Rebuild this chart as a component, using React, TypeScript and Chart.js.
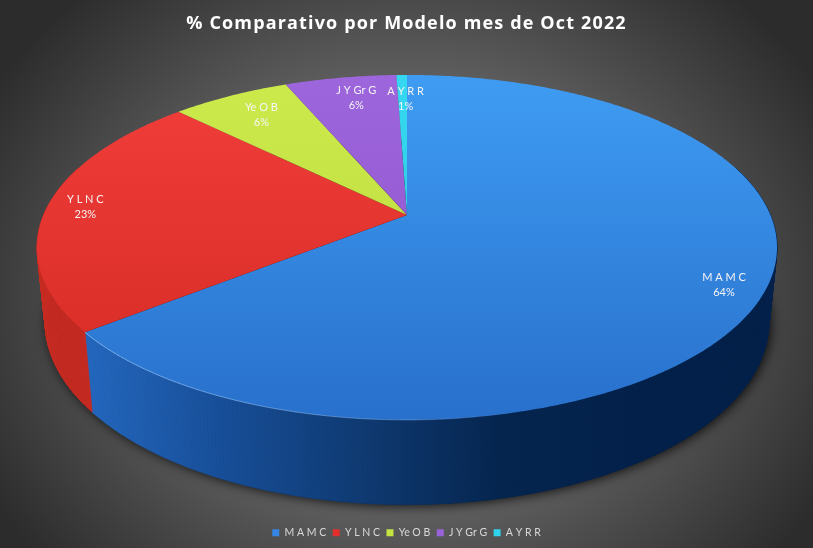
import React, { useEffect, useRef } from "react";
import { Chart, registerables } from "chart.js";

Chart.register(...registerables);

const TITLE = "% Comparativo por Modelo mes de Oct 2022";
const categories = ["M A M C", "Y L N C", "Ye O B", "J Y Gr G", "A Y R R"];
const values = [64.3, 23.1, 6.2, 5.85, 0.55];

const baseColors = ["#3585e4", "#e2302c", "#c4e444", "#9a62d8", "#2fd3ec"];
const topColors = ["#3f9cf2", "#f23e3a", "#cdea4c", "#9d66dc", "#35d8f0"];
const bottomColors = ["#2870cc", "#d42a24", "#b8d838", "#8e50c8", "#28c8e0"];
const wallStops = [
  ["#2468c0", "#174e98", "#0f3a72", "#05254f", "#02204a"],
  ["#c62a21", "#c62a21", "#c62a21", "#c62a21", "#c62a21"],
  ["#8ea82c", "#8ea82c", "#8ea82c", "#8ea82c", "#8ea82c"],
  ["#6c3ea0", "#6c3ea0", "#6c3ea0", "#6c3ea0", "#6c3ea0"],
  ["#1c9fb4", "#1c9fb4", "#1c9fb4", "#1c9fb4", "#1c9fb4"],
];
const labelRadius = [0.9, 0.9, 0.82, 0.83, 0.8];
const labelNudgeX = [-1, 2, 3, 6, 3];

// Geometry of the tilted pie: apex, radii and perspective strength
const CX = 407;
const CY = 215;
const RX = 363.4;
const RY = 166.4;
const K = 0.188;
const RIM_SX = 0.978;
const RIM_SY = 1.057;
const RIM_D = 73;

function face(a: number, f: number) {
  const u = f * Math.cos(a);
  const v = f * Math.sin(a);
  const den = 1 - K * v;
  return { x: CX + (RX * u) / den, y: CY + (RY * v) / den };
}
function rim(a: number) {
  const p = face(a, 1);
  return { x: CX + RIM_SX * (p.x - CX), y: CY + RIM_D + RIM_SY * (p.y - CY) };
}

const piePlugin = {
  id: "tiltedPie",
  beforeDraw(chart: any) {
    const { ctx, width, height } = chart;
    ctx.save();
    ctx.fillStyle = "#2a2a2a";
    ctx.fillRect(0, 0, width, height);
    ctx.translate(width / 2, height / 2 + 20);
    ctx.scale(1, 0.85);
    const g = ctx.createRadialGradient(0, 0, 0, 0, 0, 480);
    g.addColorStop(0, "#6e6e6e");
    g.addColorStop(0.55, "#5c5c5c");
    g.addColorStop(0.85, "#3c3c3c");
    g.addColorStop(1, "#2c2c2c");
    ctx.fillStyle = g;
    ctx.fillRect(-width, -height * 1.5, width * 2, height * 3);
    ctx.restore();
  },
  beforeDatasetsDraw(chart: any) {
    const { ctx } = chart;
    const arcs = chart.getDatasetMeta(0).data;
    ctx.save();

    // Drop shadow of the pie's lower rim
    ctx.save();
    ctx.shadowColor = "rgba(0,0,0,0.85)";
    ctx.shadowBlur = 12;
    ctx.shadowOffsetX = 2;
    ctx.shadowOffsetY = 1;
    ctx.fillStyle = "#111";
    ctx.beginPath();
    for (let i = 0; i <= 240; i++) {
      const p = rim((i / 240) * Math.PI * 2);
      if (i === 0) ctx.moveTo(p.x, p.y);
      else ctx.lineTo(p.x, p.y);
    }
    ctx.closePath();
    ctx.fill();
    ctx.restore();

    // Side wall
    arcs.forEach((arc: any, i: number) => {
      const g = ctx.createLinearGradient(85, 0, 640, 0);
      wallStops[i].forEach((c: string, s: number) => g.addColorStop(s / 4, c));
      ctx.fillStyle = g;
      ctx.strokeStyle = g;
      ctx.lineWidth = 0.7;
      const n = Math.max(4, Math.ceil((arc.endAngle - arc.startAngle) / 0.01));
      for (let s = 0; s < n; s++) {
        const a0 = arc.startAngle + ((arc.endAngle - arc.startAngle) * s) / n;
        const a1 = arc.startAngle + ((arc.endAngle - arc.startAngle) * (s + 1)) / n;
        if (Math.sin((a0 + a1) / 2) < -0.3) continue;
        const t0 = face(a0, 1), t1 = face(a1, 1), b0 = rim(a0), b1 = rim(a1);
        ctx.beginPath();
        ctx.moveTo(t0.x, t0.y);
        ctx.lineTo(t1.x, t1.y);
        ctx.lineTo(b1.x, b1.y);
        ctx.lineTo(b0.x, b0.y);
        ctx.closePath();
        ctx.fill();
        ctx.stroke();
      }
    });

    // Top face
    arcs.forEach((arc: any, i: number) => {
      const g = ctx.createLinearGradient(0, 75, 0, 420);
      g.addColorStop(0, topColors[i]);
      g.addColorStop(1, bottomColors[i]);
      const n = Math.max(4, Math.ceil((arc.endAngle - arc.startAngle) / 0.01));
      ctx.beginPath();
      ctx.moveTo(CX, CY);
      for (let s = 0; s <= n; s++) {
        const p = face(arc.startAngle + ((arc.endAngle - arc.startAngle) * s) / n, 1);
        ctx.lineTo(p.x, p.y);
      }
      ctx.closePath();
      ctx.fillStyle = g;
      ctx.fill();
    });

    // Thin highlight on the front edge, fading to the right
    const hl = ctx.createLinearGradient(85, 0, 520, 0);
    hl.addColorStop(0, "rgba(150,200,255,0.75)");
    hl.addColorStop(0.75, "rgba(150,200,255,0.35)");
    hl.addColorStop(1, "rgba(150,200,255,0)");
    ctx.strokeStyle = hl;
    ctx.lineWidth = 1;
    ctx.beginPath();
    const blue = arcs[0];
    for (let s = 0; s <= 120; s++) {
      const a = blue.endAngle - ((blue.endAngle - blue.startAngle) * 0.5 * s) / 120;
      const p = face(a, 1);
      if (s === 0) ctx.moveTo(p.x, p.y);
      else ctx.lineTo(p.x, p.y);
    }
    ctx.stroke();
    ctx.restore();
  },
  beforeDatasetDraw() {
    return false;
  },
  afterDatasetsDraw(chart: any) {
    const { ctx } = chart;
    const arcs = chart.getDatasetMeta(0).data;
    const total = values.reduce((a, b) => a + b, 0);
    ctx.save();
    ctx.font = '11px Lato';
    ctx.fillStyle = "#f4f4f4";
    ctx.textAlign = "center";
    ctx.textBaseline = "middle";
    arcs.forEach((arc: any, i: number) => {
      const p = face((arc.startAngle + arc.endAngle) / 2, labelRadius[i]);
      const x = p.x + labelNudgeX[i];
      ctx.fillText(categories[i], x, p.y - 7.5);
      ctx.fillText(Math.round((values[i] / total) * 100) + "%", x, p.y + 7.5);
    });
    ctx.restore();
  },
  afterLayout(chart: any) {
    const t = chart.titleBlock;
    if (t && !t.__spaced) {
      const d = t.draw.bind(t);
      t.draw = () => {
        chart.ctx.letterSpacing = "1.15px";
        d();
        chart.ctx.letterSpacing = "0px";
      };
      t.__spaced = true;
    }
  },
};

export default function App() {
  const ref = useRef<HTMLCanvasElement | null>(null);
  useEffect(() => {
    document.body.style.margin = "0";
    const chart = new Chart(ref.current as HTMLCanvasElement, {
      type: "pie",
      data: {
        labels: categories,
        datasets: [{ data: values, backgroundColor: baseColors, borderWidth: 0 }],
      },
      options: {
        responsive: false,
        animation: false,
        plugins: {
          tooltip: { enabled: false },
          title: {
            display: true,
            text: TITLE,
            color: "#ffffff",
            font: { family: '"Open Sans"', size: 18, weight: "bold" },
            padding: { top: 13, bottom: 10 },
          },
          legend: {
            position: "bottom",
            labels: {
              color: "#d9d9d9",
              boxWidth: 7,
              boxHeight: 7,
              padding: 6.5,
              font: { family: "Lato", size: 10.5 },
            },
          },
        },
      },
      plugins: [piePlugin],
    } as any);
    return () => chart.destroy();
  }, []);
  return <canvas ref={ref} width={813} height={548} style={{ display: "block" }} />;
}
